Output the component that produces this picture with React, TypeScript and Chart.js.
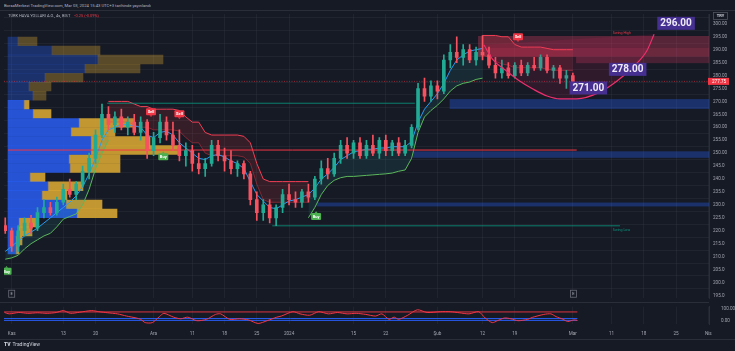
import React, { useEffect, useRef } from 'react';
import { Chart, registerables } from 'chart.js';

Chart.register(...registerables);

// ================= DATA =================
// x positions are trading-day indices (0 = 1 Nov 2023)
const days = [-1, 0, 1, 2, 3, 4, 5, 6, 7, 8, 9, 10, 11, 12, 13, 14, 15, 16, 17, 18, 19, 20, 21, 22, 23, 24, 25, 26, 27, 28, 29, 30, 31, 32, 33, 34, 35, 36, 37, 38, 39, 40, 41, 42, 43, 44, 45, 46, 47, 48, 49, 50, 51, 52, 53, 54, 55, 56, 57, 58, 59, 60, 61, 62, 63, 64, 65, 66, 67, 68, 69, 70, 71, 72, 73, 74, 75, 76, 77, 78, 79, 80, 81, 82, 83, 84, 85, 86, 87];

const opens = [
  222, 220, 214, 220, 223, 221, 227, 229, 227, 231,
  236, 234, 238, 243, 248, 257, 265, 261, 264, 260,
  262, 258, 262, 251, 256, 262, 257, 253, 249, 251,
  246, 244, 246, 253, 249, 247, 244, 246, 242, 232,
  227, 230, 225, 229, 234, 232, 231, 235, 233, 240,
  244, 242, 248, 253, 250, 254, 249, 253, 250, 255,
  251, 254, 250, 253, 260, 275, 272, 276, 274, 286,
  289, 287, 290, 286, 289, 288, 284, 281, 283, 280,
  284, 281, 284, 283, 287, 282, 283, 279, 280];
const highs = [
  225, 221, 222, 225, 226, 229, 232, 231, 233, 238,
  240, 239, 245, 250, 259, 269, 268, 266, 267, 264,
  265, 264, 263, 258, 265, 264, 262, 259, 254, 253,
  250, 248, 255, 255, 252, 251, 247, 247, 243, 235,
  232, 232, 230, 236, 238, 235, 236, 238, 241, 247,
  248, 250, 255, 256, 255, 256, 255, 257, 256, 257,
  255, 256, 255, 261, 277, 279, 278, 278, 288, 292,
  295, 292, 292, 291, 295.5, 291, 287, 286, 285, 285,
  286, 285, 287, 288, 288, 284, 284, 282, 281];
const lows = [
  219, 212, 212, 218, 219, 220, 225, 226, 226, 230,
  233, 232, 237, 240, 246, 256, 259, 258, 259, 257,
  257, 255, 248, 249, 254, 255, 251, 247, 245, 243,
  242, 241, 245, 247, 243, 242, 241, 240, 230, 224,
  224, 223, 222, 227, 230, 229, 229, 231, 232, 238,
  240, 241, 246, 248, 248, 248, 248, 249, 248, 249,
  249, 249, 249, 252, 259, 270, 270, 271, 273, 283,
  285, 284, 285, 284, 286, 283, 279, 279, 279, 279,
  280, 280, 282, 282, 281, 279, 277, 275, 277];
const closes = [
  220, 214, 220, 223, 221, 227, 229, 227, 231, 236,
  234, 238, 243, 248, 257, 265, 261, 264, 260, 262,
  258, 262, 251, 256, 262, 257, 253, 249, 251, 246,
  244, 246, 253, 249, 247, 244, 246, 242, 232, 227,
  230, 225, 229, 234, 232, 231, 235, 233, 240, 244,
  242, 248, 253, 250, 254, 249, 253, 250, 255, 251,
  254, 250, 253, 260, 275, 272, 276, 274, 286, 289,
  287, 290, 286, 289, 288, 284, 281, 283, 280, 284,
  281, 284, 283, 287, 282, 283, 279, 280, 277.75];

// trend indicator lines
const midLine = [
  212, 214, 216, 218, 219.5, 221, 223, 225, 227, 229,
  231, 233.5, 237, 242, 248, 255, 259, 260, 261, 261,
  260.5, 260, 257, 256, 258, 258.5, 257, 254, 252, 250,
  248, 247.5, 249, 249.5, 248.5, 247, 246, 244, 239, 234,
  231.5, 229, 228.5, 230, 231.5, 232, 233, 234, 236.5, 240,
  242, 244.5, 247.5, 249, 250.5, 251, 251.5, 251.5, 252, 252,
  252.5, 252.5, 252.5, 254.5, 262, 267, 270, 273, 277, 282,
  286, 288, 289.5, 290, 290.5, null, null, null, null, null,
  null, null, null, null, null, null, null, null, null];
const lowerBand = [
  209, 209.5, 210.5, 213, 215, 216.5, 218, 219, 221.5, 224.5,
  225.5, 226.5, 230, 236, 244, 250, 255, null, null, null,
  null, null, null, null, null, null, null, null, null, null,
  null, null, null, null, null, null, null, null, null, null,
  null, null, null, null, null, null, null, 225, 229, 234,
  237.5, 239.5, 240.5, 241, 241, 241.2, 241.4, 241.6, 241.8, 242,
  242.3, 243, 243.5, 248, 258, 264, 266.5, 268.5, 271, 274,
  276, 277, 277.5, 278.5, 279, null, null, null, null, null,
  null, null, null, null, null, null, null, null, null];
const upperBand = [
  null, null, null, null, null, null, null, null, null, null,
  null, null, null, null, null, null, 270, 270, 270, 270,
  269, 268, 268, 267, 267, 267, 267, 266.5, 264, 262,
  262, 258, 257, 257, 257, 257, 257, 256.5, 254, 246,
  240, 239, 239, 239, 239, 239, 239, 239, null, null,
  null, null, null, null, null, null, null, null, null, null,
  null, null, null, null, null, null, null, null, null, null,
  null, null, null, null, 295.5, 295.5, 295.5, 295, 295, 292,
  291, 291, 291, 291, 290.5, 290, 290, 290, 290];
const innerBand = [
  null, null, null, null, null, null, null, null, null, null,
  null, null, null, null, null, null, 262, 262, 262, 262,
  261, 260, 260, 259, 259, 259, 259, 258.5, 256, 254,
  254, 250, 249, 249, 249, 249, 249, 248.5, 246, 238,
  232, 231, 231, 231, 231, 231, 231, 231, null, null,
  null, null, null, null, null, null, null, null, null, null,
  null, null, null, null, null, null, null, null, null, null,
  null, null, null, null, 288, 287, 285.5, 284.5, 284, 283,
  283, 283, 283, 283, 282.5, 282, 282, 282, 282];

// volume profile rows
const vpPrices = [293.2, 289.7, 286.2, 282.7, 279.2, 275.7, 272.2, 268.7, 265.2, 261.7, 258.2, 254.7, 251.2, 247.7, 244.2, 240.7, 237.2, 233.7, 230.2, 226.7, 223.2, 219.7, 216.2, 212.7];
const vpBuy = [10, 44, 90, 77, 37, 21, 25, 16, 25, 71, 63, 83, 83, 61, 62, 22, 40, 34, 58, 69, 11, 10, 8, 8];
const vpSell = [19, 48, 65, 55, 38, 22, 13, 5, 18, 55, 44, 59, 87, 51, 50, 15, 35, 25, 36, 40, 18, 14, 6, 3];
const vpValueArea = [false, false, false, false, false, false, false, true, true, true, true, true, true, true, true, true, true, true, true, true, true, true, true, true];

// horizontal levels: POC, BOS, swing low
const levelPrices = [251.2, 269.3, 221.9];
const levelStart = [-0.57, 14.8, 40.4];
const levelEnd = [87.6, 62.5, 94.3];

// supply / demand zones
const zoneStart = [72.3, 72.3, 87.5, 67.9, 62.2, 47.3];
const zoneEnd = [110, 110, 110, 110, 110, 110];
const zoneTop = [295.3, 290.8, 287.3, 270.9, 250.7, 230.9];
const zoneBottom = [290.8, 287.3, 284.8, 267.1, 248.2, 229.4];

// arc drawing and its price labels
const arcDays = [73.2, 74.6, 76.8, 78.8, 80.8, 83.0, 85.0, 87.6, 91.2, 93.8, 96.3, 98.5, 99.6];
const arcPrices = [291.9, 286.2, 281.6, 277.8, 274.8, 272.1, 271.0, 271.0, 273.6, 277.8, 283.2, 289.7, 296.0];
const arcLevels = [296, 278, 271];
const arcLabelDays = [103, 95.5, 89.4];
const arcLabelPrices = [300.2, 282.4, 275.2];

// buy / sell signals
const signalTypes = ['Buy', 'Sell', 'Buy', 'Sell', 'Buy', 'Sell'];
const signalDays = [-0.8, 21.6, 23.5, 26.0, 47.2, 78.5];
const signalPrices = [204.3, 266, 248.6, 265.2, 225.5, 295];

// small texts
const noteTexts = ['Swing High', 'Swing Low'];
const noteDays = [93.2, 93.2];
const notePrices = [296.5, 220.2];

const eventDays = [0, 87.1];

// oscillator
const oscDays = [-1.1, -0.4, 1.1, 2.5, 4.0, 5.5, 6.9, 8.0, 9.1, 10.5, 12.4, 13.5, 14.9, 16.4, 17.8, 19.3, 20.0, 20.7, 21.8, 22.9, 23.6, 25.1, 26.2, 27.3, 28.7, 30.2, 31.6, 32.4, 33.8, 35.3, 36.7, 38.2, 39.6, 41.1, 41.8, 43.6, 44.7, 46.2, 47.6, 49.1, 50.5, 52.0, 53.4, 54.9, 56.4, 57.4, 58.5, 59.3, 60.0, 61.4, 62.9, 64.4, 66.5, 68.0, 69.4, 70.9, 72.4, 73.4, 74.5, 75.3, 76.4, 77.4, 78.5, 80.0, 80.7, 82.5, 83.6, 84.4, 85.5, 86.2, 87.2, 87.7];
const oscValues = [72.8, 61.5, 72.8, 66, 70.6, 66, 72.8, 88.7, 66, 75, 88.7, 79.6, 70.6, 61.5, 43.4, 27.5, 16.1, -11, -11, 38.8, 66, 34.3, 20.7, 34.3, 4.8, 16.1, 57, 61.5, 16.1, 20.7, 11.6, -17.9, 4.8, 34.3, 43.4, 79.6, 61.5, 50.2, 79.6, 61.5, 72.8, 61.5, 66, 57, 43.4, 61.5, 16.1, 34.3, 16.1, 50.2, 95.5, 72.8, 79.6, 79.6, 70.6, 61.5, 79.6, 27.5, -11, 4.8, 27.5, 20.7, 4.8, 16.1, 32, 57, 61.5, 38.8, 16.1, -2, 11.6, 7];
const oscLevels = [77.5, 23, 7];

// axes
const tickDays = [0, 8, 13, 22, 28, 33, 38, 43, 53, 58, 66, 73, 78, 87, 93, 98, 103, 108];
const tickLabels = ['Kas', '13', '20', 'Ara', '11', '18', '25', '2024', '15', '22', 'Şub', '12', '19', 'Mar', '11', '18', '25', 'Nis'];
const priceTicks = [195, 200, 205, 210, 215, 220, 225, 230, 235, 240, 245, 250, 255, 260, 265, 270, 275, 280, 285, 290, 295, 300];
const oscTicks = [0, 100];

// ================= STYLE =================
const FONT = 'Roboto, "Noto Sans", "DejaVu Sans", sans-serif';
const BG = '#161a25';
const GRID = 'rgba(60,64,78,0.35)';
const AXIS_TXT = '#a3a6af';
const UP = '#22ab94';
const DOWN = '#f7525f';
const RED = '#f23645';
const X_MIN = -1.194;
const X_MAX = 108.11;
const zoneFill = ['rgba(236,64,100,0.30)', 'rgba(236,64,100,0.40)', 'rgba(236,64,100,0.24)', 'rgba(41,98,255,0.32)', 'rgba(41,98,255,0.32)', 'rgba(41,98,255,0.32)'];
const levelColors = [RED, '#089981', '#089981'];

const xy = (xs: number[], ys: (number | null)[]) => xs.map((x, i) => ({ x, y: ys[i] }));

const zonesPlugin = {
  id: 'zones',
  beforeDatasetsDraw(chart: any) {
    const { ctx, chartArea: a, scales } = chart;
    const x = scales.x, y = scales.y;
    ctx.save();
    ctx.beginPath();
    ctx.rect(a.left, a.top, a.right - a.left, a.bottom - a.top);
    ctx.clip();
    zoneStart.forEach((s, i) => {
      const x0 = x.getPixelForValue(s), x1 = x.getPixelForValue(zoneEnd[i]);
      const y0 = y.getPixelForValue(zoneTop[i]), y1 = y.getPixelForValue(zoneBottom[i]);
      ctx.fillStyle = zoneFill[i];
      ctx.fillRect(x0, y0, x1 - x0, y1 - y0);
    });
    ctx.restore();
  },
};

const overlayPlugin = {
  id: 'overlay',
  afterDatasetsDraw(chart: any) {
    const { ctx, chartArea: a, scales } = chart;
    const x = scales.x, y = scales.y;
    ctx.save();
    ctx.beginPath();
    ctx.rect(a.left, 0, a.right - a.left, chart.height);
    ctx.clip();
    ctx.textAlign = 'center';
    ctx.textBaseline = 'middle';
    // notes
    noteTexts.forEach((t, i) => {
      ctx.font = `3.6px ${FONT}`;
      ctx.fillStyle = i === 0 ? RED : '#089981';
      ctx.textAlign = 'left';
      ctx.fillText(t, x.getPixelForValue(noteDays[i]), y.getPixelForValue(notePrices[i]));
    });
    ctx.textAlign = 'center';
    // signals
    signalTypes.forEach((t, i) => {
      const px = x.getPixelForValue(signalDays[i]);
      const py = y.getPixelForValue(signalPrices[i]);
      const buy = t === 'Buy';
      ctx.fillStyle = buy ? '#4caf50' : RED;
      ctx.beginPath();
      ctx.roundRect(px - 5, py - 3.5, 10, 7, 1);
      ctx.fill();
      ctx.beginPath();
      if (buy) {
        ctx.moveTo(px - 1.5, py - 3.5); ctx.lineTo(px, py - 5.3); ctx.lineTo(px + 1.5, py - 3.5);
      } else {
        ctx.moveTo(px - 1.5, py + 3.5); ctx.lineTo(px, py + 5.3); ctx.lineTo(px + 1.5, py + 3.5);
      }
      ctx.fill();
      ctx.fillStyle = '#ffffff';
      ctx.font = `bold 4px ${FONT}`;
      ctx.fillText(t, px, py + 0.3);
    });
    // E markers
    eventDays.forEach((d) => {
      const px = x.getPixelForValue(d);
      ctx.strokeStyle = '#6a6d78';
      ctx.lineWidth = 0.8;
      ctx.strokeRect(px - 3, a.bottom - 8, 6, 7);
      ctx.fillStyle = '#b2b5be';
      ctx.font = `4px ${FONT}`;
      ctx.fillText('E', px, a.bottom - 4.4);
    });
    // arc price labels
    arcLevels.forEach((v, i) => {
      const px = x.getPixelForValue(arcLabelDays[i]);
      const py = y.getPixelForValue(arcLabelPrices[i]);
      ctx.font = `bold 10px ${FONT}`;
      const txt = v.toFixed(2);
      const w = ctx.measureText(txt).width + 6;
      ctx.fillStyle = 'rgba(72,48,150,0.95)';
      ctx.fillRect(px - w / 2, py - 6.5, w, 13);
      ctx.fillStyle = '#eeeaf7';
      ctx.fillText(txt, px, py + 0.5);
    });
    ctx.restore();

    // axis: current price tag and currency box
    const last = closes[closes.length - 1];
    const py = y.getPixelForValue(last);
    ctx.save();
    ctx.fillStyle = RED;
    ctx.fillRect(a.right - 1, py - 3.5, 21, 7);
    ctx.fillStyle = '#ffffff';
    ctx.font = `4.6px ${FONT}`;
    ctx.textAlign = 'left';
    ctx.textBaseline = 'middle';
    ctx.fillText(last.toFixed(2), a.right + 3, py + 0.2);
    ctx.strokeStyle = '#50535e';
    ctx.lineWidth = 0.8;
    ctx.strokeRect(a.right + 4.5, 12.5, 14, 7);
    ctx.fillStyle = '#d1d4dc';
    ctx.font = `bold 4px ${FONT}`;
    ctx.textAlign = 'center';
    ctx.fillText('TRY', a.right + 11.5, 16.2);
    ctx.restore();
  },
};

function mainConfig(): any {
  const candleColor = (c: any) => (closes[c.dataIndex] >= opens[c.dataIndex] ? UP : DOWN);
  const last = closes[closes.length - 1];
  const datasets: any[] = [];
  datasets.push({
    type: 'line', data: xy(arcDays, arcPrices), borderColor: '#ee2f6e', borderWidth: 1.2,
    backgroundColor: 'rgba(233,30,99,0.12)', fill: 'shape', pointRadius: 0,
    cubicInterpolationMode: 'monotone', order: 1,
  });
  datasets.push({
    type: 'bar', data: days.map((d, i) => ({ x: d, y: [opens[i], closes[i]] })),
    backgroundColor: candleColor, barThickness: 3, grouped: false, borderWidth: 0, order: 2,
  });
  datasets.push({
    type: 'bar', data: days.map((d, i) => ({ x: d, y: [lows[i], highs[i]] })),
    backgroundColor: candleColor, barThickness: 1, grouped: false, borderWidth: 0, order: 3,
  });
  levelPrices.forEach((p, i) => {
    datasets.push({
      type: 'line', data: [{ x: levelStart[i], y: p }, { x: levelEnd[i], y: p }],
      borderColor: levelColors[i], borderWidth: i === 0 ? 1 : 0.8, pointRadius: 0, fill: false, order: 4,
    });
  });
  datasets.push({
    type: 'line', data: [{ x: X_MIN, y: last }, { x: X_MAX, y: last }],
    borderColor: 'rgba(242,54,69,0.8)', borderWidth: 0.7, borderDash: [1, 1.5], pointRadius: 0, fill: false, order: 4,
  });
  const midIdx = datasets.length;
  datasets.push({
    type: 'line', data: xy(days, midLine), borderColor: '#2a9df4', borderWidth: 1, pointRadius: 0, fill: false, order: 5,
  });
  const innerIdx = datasets.length;
  datasets.push({
    type: 'line', data: xy(days, innerBand), borderColor: 'rgba(242,54,69,0.55)', borderWidth: 0.8, pointRadius: 0, fill: false, order: 6,
  });
  datasets.push({
    type: 'line', data: xy(days, upperBand), borderColor: '#f23f55', borderWidth: 1, pointRadius: 0,
    fill: { target: innerIdx, above: 'rgba(242,54,69,0.15)', below: 'rgba(242,54,69,0.15)' }, order: 6,
  });
  datasets.push({
    type: 'line', data: xy(days, lowerBand), borderColor: '#5cb85c', borderWidth: 1, pointRadius: 0,
    fill: { target: midIdx, above: 'rgba(38,166,154,0.13)', below: 'rgba(38,166,154,0.13)' }, order: 6,
  });
  datasets.push({
    type: 'bar', indexAxis: 'y', xAxisID: 'xv', yAxisID: 'y',
    data: vpPrices.map((p, i) => ({ y: p, x: [0, vpBuy[i]] })),
    backgroundColor: vpValueArea.map((v) => (v ? 'rgba(41,98,255,0.8)' : 'rgba(41,98,255,0.32)')),
    barThickness: 8.7, grouped: false, borderWidth: 0, order: 10,
  });
  datasets.push({
    type: 'bar', indexAxis: 'y', xAxisID: 'xv', yAxisID: 'y',
    data: vpPrices.map((p, i) => ({ y: p, x: [vpBuy[i], vpBuy[i] + vpSell[i]] })),
    backgroundColor: vpValueArea.map((v) => (v ? 'rgba(232,178,52,0.82)' : 'rgba(232,178,52,0.32)')),
    barThickness: 8.7, grouped: false, borderWidth: 0, order: 10,
  });

  return {
    type: 'line',
    data: { datasets },
    options: {
      responsive: false, animation: false, devicePixelRatio: 1, events: [],
      layout: { padding: { left: 4, top: 14, right: 0, bottom: 0 } },
      plugins: { legend: { display: false }, tooltip: { enabled: false } },
      scales: {
        x: {
          type: 'linear', min: X_MIN, max: X_MAX, offset: false,
          afterBuildTicks: (s: any) => { s.ticks = tickDays.map((v) => ({ value: v })); },
          afterFit: (s: any) => { s.height = 3; },
          ticks: { display: false },
          grid: { color: GRID, drawTicks: false, offset: false, lineWidth: 0.8 },
          border: { display: false },
        },
        xv: { type: 'linear', axis: 'x', display: false, min: -4, max: 701, offset: false },
        y: {
          type: 'linear', position: 'right', min: 193.9, max: 303.8, offset: false, beginAtZero: false,
          afterBuildTicks: (s: any) => { s.ticks = priceTicks.map((v) => ({ value: v })); },
          afterFit: (s: any) => { s.width = 26; },
          ticks: {
            autoSkip: false, padding: 4, color: AXIS_TXT, font: { size: 4.6, family: FONT },
            callback: (v: number) => (v >= 250 ? v.toFixed(2) : v.toFixed(1)),
          },
          grid: { color: GRID, drawTicks: false, lineWidth: 0.8 },
          border: { display: true, color: '#2a2e39' },
        },
      },
    },
    plugins: [zonesPlugin, overlayPlugin],
  };
}

function oscConfig(): any {
  const datasets: any[] = [];
  datasets.push({
    type: 'line', data: xy(oscDays, oscValues), borderColor: RED, borderWidth: 1,
    pointRadius: 0, tension: 0.25, fill: false, order: 1,
  });
  const levelCols = [RED, '#2962ff', '#2962ff'];
  oscLevels.forEach((v, i) => {
    datasets.push({
      type: 'line', data: [{ x: X_MIN, y: v }, { x: 87.7, y: v }], borderColor: levelCols[i],
      borderWidth: 0.9, pointRadius: 0, order: 2,
      fill: i === 1 ? { target: datasets.length + 1, above: 'rgba(41,98,255,0.10)', below: 'rgba(41,98,255,0.10)' } : false,
    });
  });
  return {
    type: 'line',
    data: { datasets },
    options: {
      responsive: false, animation: false, devicePixelRatio: 1, events: [],
      layout: { padding: { left: 4, top: 3, right: 0, bottom: 0 } },
      plugins: { legend: { display: false }, tooltip: { enabled: false } },
      scales: {
        x: {
          type: 'linear', min: X_MIN, max: X_MAX, offset: false,
          afterBuildTicks: (s: any) => { s.ticks = tickDays.map((v) => ({ value: v })); },
          afterFit: (s: any) => { s.height = 20; },
          ticks: {
            autoSkip: false, maxRotation: 0, padding: 7, color: AXIS_TXT,
            font: { size: 4.6, family: FONT },
            callback: (_v: number, i: number) => tickLabels[i],
          },
          grid: { color: GRID, drawTicks: false, lineWidth: 0.8 },
          border: { display: false },
        },
        y: {
          type: 'linear', position: 'right', min: -22.4, max: 120.4, offset: false, beginAtZero: false,
          afterBuildTicks: (s: any) => { s.ticks = oscTicks.map((v) => ({ value: v })); },
          afterFit: (s: any) => { s.width = 26; },
          ticks: {
            autoSkip: false, padding: 4, color: AXIS_TXT, font: { size: 4.6, family: FONT },
            callback: (v: number) => v.toFixed(2),
          },
          grid: { display: false },
          border: { display: true, color: '#2a2e39' },
        },
      },
    },
  };
}

export default function App() {
  const mainRef = useRef<HTMLCanvasElement>(null);
  const oscRef = useRef<HTMLCanvasElement>(null);

  useEffect(() => {
    Chart.defaults.font.family = FONT;
    const main = new Chart(mainRef.current as HTMLCanvasElement, mainConfig());
    const osc = new Chart(oscRef.current as HTMLCanvasElement, oscConfig());
    return () => {
      main.destroy();
      osc.destroy();
    };
  }, []);

  const small: any = {
    position: 'absolute', transform: 'scale(0.5)', transformOrigin: '0 0',
    whiteSpace: 'nowrap', fontFamily: FONT, lineHeight: 1,
  };

  return (
    <div style={{ position: 'fixed', left: 0, top: 0, width: 735, height: 351, background: BG, overflow: 'hidden' }}>
      <div style={{ ...small, left: 4, top: 3, fontSize: 8.4, color: '#b2b5be' }}>
        BorsaMerkezi TradingView.com, Mar 03, 2024 15:43 UTC+3 tarihinde yayınlandı
      </div>
      <div style={{ position: 'absolute', left: 0, top: 10, width: 735, height: 1, background: '#2a2e39' }} />
      <canvas ref={mainRef} width={735} height={305} style={{ position: 'absolute', left: 0, top: 0, display: 'block' }} />
      <div style={{ ...small, left: 8, top: 14, fontSize: 8, color: '#b2b5be' }}>
        TÜRK HAVA YOLLARI A.O., 4s, BIST
        <span style={{ color: RED, marginLeft: 8 }}>-0.25 (-0.09%)</span>
      </div>
      <div style={{ position: 'absolute', left: 0, top: 302, width: 709, height: 1, background: '#2a2e39' }} />
      <canvas ref={oscRef} width={735} height={44} style={{ position: 'absolute', left: 0, top: 300, display: 'block' }} />
      <div style={{ position: 'absolute', left: 0, top: 339, width: 735, height: 1, background: '#2a2e39' }} />
      <div style={{ ...small, left: 4, top: 342, fontSize: 10, color: '#d1d4dc' }}>
        <b style={{ fontWeight: 900, marginRight: 4 }}>TV</b>TradingView
      </div>
    </div>
  );
}
